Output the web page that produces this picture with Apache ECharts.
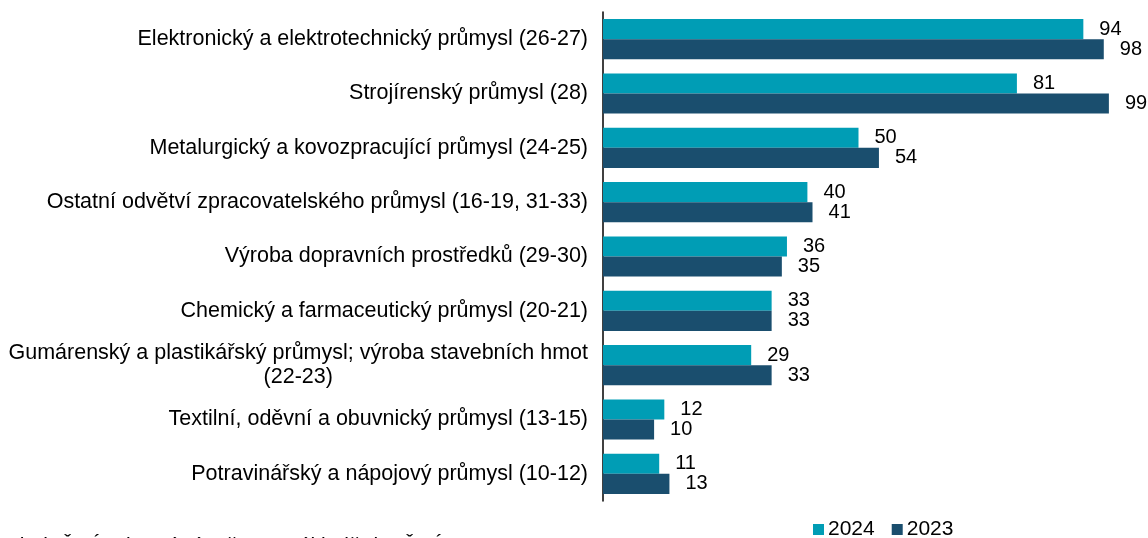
<!DOCTYPE html>
<html>
<head>
<meta charset="utf-8">
<script src="https://cdn.jsdelivr.net/npm/echarts@6/dist/echarts.min.js"></script>
<style>
  html, body { margin: 0; padding: 0; background: #fff; }
  #main { width: 1148px; height: 538px; }
</style>
</head>
<body>
<div id="main"></div>
<script>
// odvětví zpracovatelského průmyslu
var categories = [
    'Elektronický a elektrotechnický průmysl (26-27)',
    'Strojírenský průmysl (28)',
    'Metalurgický a kovozpracující průmysl (24-25)',
    'Ostatní odvětví zpracovatelského průmysl (16-19, 31-33)',
    'Výroba dopravních prostředků (29-30)',
    'Chemický a farmaceutický průmysl (20-21)',
    'Gumárenský a plastikářský průmysl; výroba stavebních hmot\n(22-23)',
    'Textilní, oděvní a obuvnický průmysl (13-15)',
    'Potravinářský a nápojový průmysl (10-12)'
];
var values2024 = [94, 81, 50, 40, 36, 33, 29, 12, 11];
var values2023 = [98, 99, 54, 41, 35, 33, 33, 10, 13];
var seriesNames = ['2024', '2023'];
var sourceText = 'Zdroj: ČSÚ, vlastní výpočty na základě dat ČSÚ';

var font = 'Arial, "Liberation Sans", sans-serif';

var myChart = echarts.init(document.getElementById('main'));

var valueLabel = {
    show: true,
    position: 'right',
    distance: 16,
    color: '#000',
    fontSize: 20,
    fontFamily: font
};

var option = {
    animation: false,
    backgroundColor: '#fff',
    grid: {
        left: 603,
        right: 34,
        top: 12,
        bottom: 37
    },
    legend: {
        data: seriesNames,
        left: 813,
        top: 519,
        padding: 0,
        icon: 'rect',
        itemWidth: 11,
        itemHeight: 11,
        itemGap: 17,
        textStyle: { color: '#000', fontSize: 21, fontFamily: font, padding: [0, 0, 0, -1] }
    },
    xAxis: {
        type: 'value',
        min: 0,
        max: 100,
        show: false
    },
    yAxis: {
        type: 'category',
        data: categories,
        inverse: true,
        axisLine: { show: true, lineStyle: { color: '#000', width: 1.5 } },
        axisTick: { show: false },
        axisLabel: {
            margin: 15,
            color: '#000',
            fontSize: 21.5,
            fontFamily: font,
            lineHeight: 24,
            formatter: function (value) {
                var lines = value.split('\n');
                return lines.map(function (l) { return '{c|' + l + '}'; }).join('\n');
            },
            rich: {
                c: { align: 'center', color: '#000', fontSize: 21.5, fontFamily: font, lineHeight: 24 }
            }
        }
    },
    series: [
        {
            name: seriesNames[0],
            type: 'bar',
            data: values2024,
            barGap: '0%',
            barCategoryGap: '26%',
            itemStyle: { color: '#009DB5' },
            label: valueLabel
        },
        {
            name: seriesNames[1],
            type: 'bar',
            data: values2023,
            itemStyle: { color: '#1A4E6E' },
            label: valueLabel
        }
    ],
    graphic: [
        {
            type: 'text',
            left: 0,
            top: 536,
            style: { text: sourceText, fill: '#000', font: '21px ' + font }
        }
    ]
};

myChart.setOption(option);
</script>
</body>
</html>
